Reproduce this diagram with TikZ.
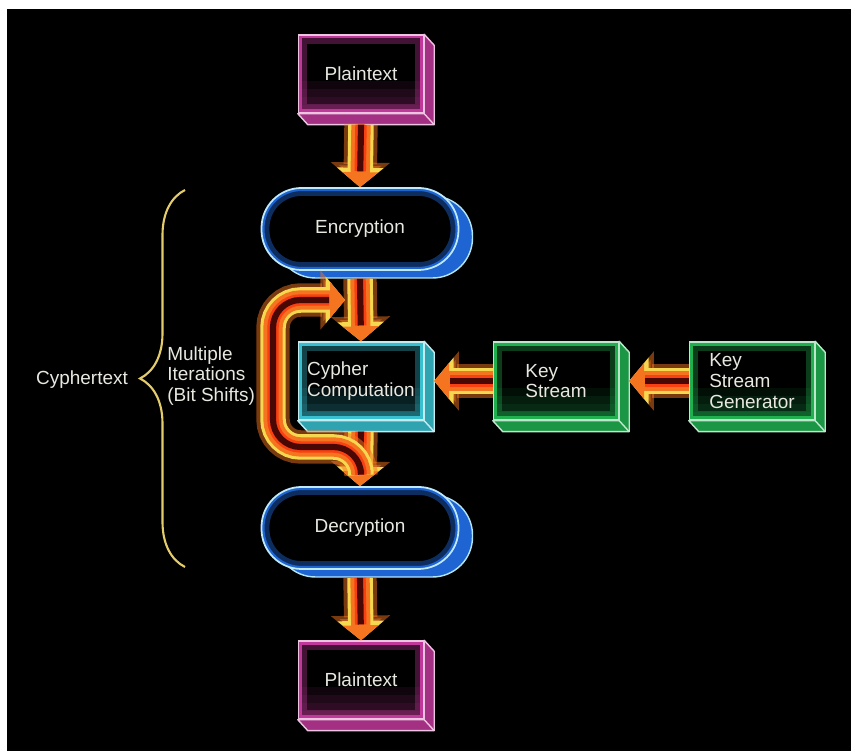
\documentclass[tikz,border=0pt]{standalone}
\usepackage{fontspec}
\setmainfont{Liberation Sans}
\usetikzlibrary{arrows.meta, shadows, decorations.pathreplacing}
\definecolor{plainpink}{HTML}{C0389A}
\definecolor{cypcyan}{HTML}{38C0D0}
\definecolor{keygreen}{HTML}{20B050}
\definecolor{encblue}{HTML}{1E64D2}
\definecolor{flowor}{HTML}{F47420}
\definecolor{flowyel}{HTML}{F6D850}
\definecolor{flowred}{HTML}{4A0804}
\definecolor{bracey}{HTML}{E4CC6A}
\definecolor{txt}{HTML}{E8E8E0}
\begin{document}
\begin{tikzpicture}[font=\fontsize{10.8}{11.8}\selectfont, text=txt,
      box/.style={draw=#1!30!white, line width=0.8pt, fill=black, align=left, inner sep=0pt,
        minimum width=2.5cm, minimum height=1.56cm,
        path picture={
          \foreach \h in {0.16,0.32,...,0.8}
            \fill[#1, opacity=0.09] (path picture bounding box.south west) rectangle ([yshift=\h cm]path picture bounding box.south east);
          \draw[#1, line width=10pt, opacity=0.35] (path picture bounding box.south west) rectangle (path picture bounding box.north east);
          \draw[#1, line width=4pt] (path picture bounding box.south west) rectangle (path picture bounding box.north east);}},
      stadium/.style={draw=cyan!25!white, line width=1pt, fill=black, rounded corners=0.8cm,
        minimum width=3.94cm, minimum height=1.64cm,
        general shadow={fill=encblue, draw=cyan!30!white, line width=0.8pt, shadow xshift=0.28cm, shadow yshift=-0.16cm},
        path picture={
          \draw[encblue, line width=9pt, opacity=0.45, rounded corners=0.8cm] (path picture bounding box.south west) rectangle (path picture bounding box.north east);
          \draw[encblue, line width=3.5pt, rounded corners=0.8cm] (path picture bounding box.south west) rectangle (path picture bounding box.north east);}},
      flow/.style={line width=11pt, draw=flowor, -{Triangle[width=20pt,length=8.5pt]},
        preaction={draw=flowor, opacity=0.5, line width=19pt, -{Triangle[width=33pt,length=14pt]}},
        preaction={draw=flowyel, line width=14.5pt, -{Triangle[width=26pt,length=11pt]}},
        postaction={draw=flowor!55!red, line width=6.5pt, -, shorten >=9pt},
        postaction={draw=flowred, line width=3.5pt, -, shorten >=9pt}}]
    \useasboundingbox (0,0) rectangle (17.02,15.02);
    \fill[white] (0,0) rectangle (17.02,15.02);
    \fill[black] (0.14,0) rectangle (17.02,14.84);

    % left labels
    \coordinate (brbot) at (3.7,3.68);
    \coordinate (brtop) at (3.7,11.22);
    \draw[bracey, line width=1.2pt, decorate, decoration={brace, amplitude=0.9cm}] (brbot) -- (brtop);
    \node (cyph) at (1.64,7.42) {Cyphertext};
    \node[align=left, anchor=west, inner sep=0pt] (iter) at (3.34,7.5) {Multiple\\Iterations\\(Bit Shifts)};

    % main column
    \node[box=plainpink] (plaintop) at (7.22,13.54) {Plaintext};
    \node[stadium] (enc) at (7.2,10.44) {Encryption};
    \node[box=cypcyan] (cypher) at (7.22,7.4) {Cypher\\Computation};
    \node[stadium] (dec) at (7.2,4.46) {Decryption};
    \node[box=plainpink] (plainbot) at (7.22,1.42) {Plaintext};
    % key side
    \node[box=keygreen] (keystream) at (11.12,7.4) {Key\\Stream};
    \node[box=keygreen] (keygen) at (15.04,7.4) {Key\\Stream\\Generator};

    \foreach \n/\c in {plaintop/plainpink, cypher/cypcyan, keystream/keygreen, keygen/keygreen, plainbot/plainpink} {
      \draw[draw=\c!30!white, fill=\c!85!black, line width=0.8pt, line join=round]
        (\n.north east) -- ([shift={(0.2,-0.22)}]\n.north east) -- ([shift={(0.2,-0.22)}]\n.south east)
        -- ([shift={(0.2,-0.22)}]\n.south west) -- (\n.south west) -- (\n.south east) -- cycle;
      \draw[draw=\c!30!white, line width=0.8pt] (\n.south east) -- ([shift={(0.2,-0.22)}]\n.south east);
    }

    \draw[flow] ([yshift=-0.22cm]plaintop.south) -- (enc.north);
    \draw[flow] ([yshift=-0.16cm]enc.south) -- (cypher.north);
    \draw[flow] ([yshift=-0.22cm]cypher.south) -- (dec.north);
    \draw[flow] ([yshift=-0.16cm]dec.south) -- (plainbot.north);
    \draw[flow] (keygen.west) -- ([xshift=0.2cm]keystream.east);
    \draw[flow] (keystream.west) -- ([xshift=0.2cm]cypher.east);

    % iteration loop
    \coordinate (loopout) at (7.22,5.62);
    \coordinate (loopin) at (6.9,9.02);
    \draw[flow, rounded corners=0.55cm] (loopout) |- (5.46,6.08) |- (loopin);
  \end{tikzpicture}
\end{document}
